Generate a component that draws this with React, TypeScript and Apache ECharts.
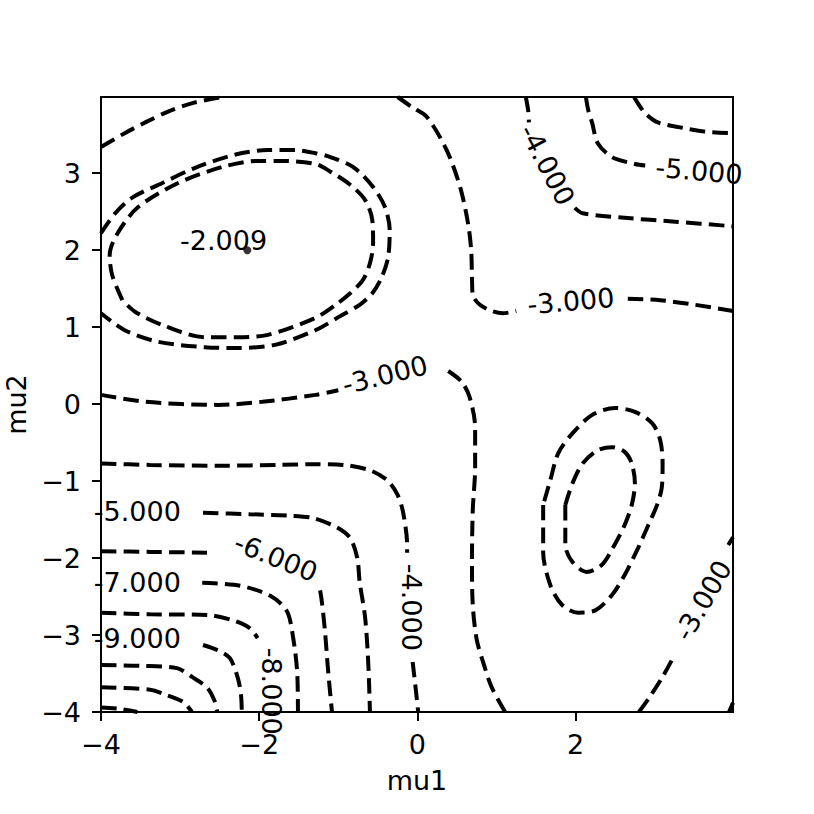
import React, { useEffect, useRef } from "react";
import * as echarts from "echarts";

// axis ranges and ticks
const xRange = [-4, 3.99];
const yRange = [-4, 3.99];
const xTicks = [-4, -2, 0, 2];
const yTicks = [-4, -3, -2, -1, 0, 1, 2, 3];

// contour lines, as [mu1, mu2]
const c3TopLeft = [[-4, 3.34], [-3.7, 3.52], [-3.44, 3.66], [-3.13, 3.81], [-2.81, 3.92], [-2.46, 3.99]];
const cOuterMode1 = [
  [-4, 2.22], [-3.82, 2.48], [-3.61, 2.68], [-3.23, 2.87], [-2.81, 3.07], [-2.31, 3.24], [-1.89, 3.3],
  [-1.55, 3.3], [-1.29, 3.26], [-1.1, 3.21], [-0.81, 3.08], [-0.56, 2.82], [-0.41, 2.56], [-0.35, 2.26],
  [-0.37, 1.91], [-0.45, 1.65], [-0.57, 1.44], [-0.73, 1.29], [-0.98, 1.14], [-1.29, 0.96], [-1.8, 0.77],
  [-2.27, 0.73], [-2.69, 0.74], [-3.28, 0.81], [-3.7, 0.96], [-4, 1.18],
];
const cInnerMode1 = [
  [-3.73, 1.35], [-3.86, 1.68], [-3.89, 1.94], [-3.79, 2.22], [-3.53, 2.56], [-3.03, 2.87], [-2.47, 3.08],
  [-2.02, 3.16], [-1.71, 3.16], [-1.29, 3.12], [-1.1, 3.02], [-0.85, 2.85], [-0.66, 2.65], [-0.57, 2.39],
  [-0.56, 2.09], [-0.6, 1.83], [-0.69, 1.61], [-0.85, 1.44], [-1.02, 1.3], [-1.29, 1.12], [-1.89, 0.9],
  [-2.31, 0.87], [-2.69, 0.87], [-3.23, 1.03], [-3.57, 1.2], [-3.73, 1.35],
];
const c3TopMidA = [
  [-0.25, 3.99], [-0.07, 3.86], [0.12, 3.73], [0.37, 3.3], [0.54, 2.82], [0.64, 2.35], [0.68, 2.0],
  [0.69, 1.65], [0.7, 1.42], [0.79, 1.29], [0.94, 1.21], [1.08, 1.18], [1.25, 1.21],
];
const c3TopMidB = [[2.66, 1.37], [3.07, 1.35], [3.51, 1.29], [3.99, 1.21]];
const c3MidA = [[-4, 0.12], [-3.44, 0.03], [-2.52, -0.01], [-1.96, 0.03], [-1.29, 0.12], [-1.0, 0.18]];
const c3MidB = [
  [0.39, 0.43], [0.56, 0.29], [0.66, 0.09], [0.73, -0.3], [0.73, -0.82], [0.7, -1.38], [0.69, -2.03],
  [0.7, -2.61], [0.75, -3.06], [0.83, -3.35], [0.94, -3.68], [1.11, -4],
];
const c4BottomA = [
  [-4, -0.77], [-3.38, -0.79], [-2.5, -0.8], [-1.74, -0.79], [-1.29, -0.78], [-0.94, -0.79], [-0.6, -0.86],
  [-0.38, -0.99], [-0.25, -1.18], [-0.18, -1.41], [-0.13, -1.83], [-0.13, -1.93],
];
const c4BottomB = [[-0.06, -3.35], [-0.02, -3.71], [0.01, -4]];
const c5Bottom = [
  [-2.71, -1.41], [-2.12, -1.43], [-1.61, -1.45], [-1.32, -1.48], [-1.02, -1.6], [-0.85, -1.74],
  [-0.76, -2.0], [-0.73, -2.31], [-0.66, -2.78], [-0.62, -3.39], [-0.6, -4],
];
const c6BottomA = [[-4, -1.91], [-3.38, -1.92], [-2.66, -1.93]];
const c6BottomB = [[-1.23, -2.42], [-1.21, -2.55], [-1.17, -2.93], [-1.13, -3.45], [-1.08, -4]];
const c7Bottom = [[-2.72, -2.32], [-2.24, -2.36], [-1.86, -2.49], [-1.65, -2.69], [-1.57, -3.04], [-1.52, -3.48], [-1.51, -4]];
const c8Bottom = [[-4, -2.71], [-3.38, -2.73], [-2.66, -2.74], [-2.33, -2.81], [-2.12, -2.91], [-2.02, -3.04]];
const c9Bottom = [[-2.71, -3.13], [-2.52, -3.2], [-2.37, -3.3], [-2.27, -3.56], [-2.23, -3.78], [-2.22, -4]];
const c10Bottom = [[-4, -3.39], [-3.51, -3.4], [-3.04, -3.43], [-2.84, -3.55], [-2.66, -3.68], [-2.57, -3.84], [-2.53, -4]];
const c11Bottom = [[-4, -3.68], [-3.38, -3.71], [-3.17, -3.78], [-2.96, -3.87], [-2.85, -4]];
const c12Bottom = [[-4, -3.94], [-3.76, -3.96], [-3.54, -4]];
const c4TopA = [[1.37, 3.99], [1.4, 3.82], [1.41, 3.66]];
const c4TopB = [[1.99, 2.55], [2.09, 2.48], [2.62, 2.42], [3.26, 2.37], [3.99, 2.31]];
const c5Top = [[2.13, 3.99], [2.16, 3.82], [2.21, 3.65], [2.28, 3.39], [2.46, 3.21], [2.75, 3.12], [2.88, 3.1]];
const c6Top = [[2.74, 3.99], [2.78, 3.92], [2.88, 3.78], [3.04, 3.66], [3.35, 3.59], [3.64, 3.54], [3.99, 3.52]];
const cOuterMode2 = [
  [1.59, -1.31], [1.59, -1.92], [1.68, -2.35], [1.83, -2.61], [2.03, -2.71], [2.25, -2.68], [2.46, -2.48],
  [2.62, -2.22], [2.79, -1.87], [2.92, -1.57], [3.03, -1.31], [3.09, -1.08], [3.1, -0.77], [3.07, -0.47],
  [2.97, -0.25], [2.75, -0.1], [2.5, -0.05], [2.21, -0.14], [1.96, -0.38], [1.78, -0.64], [1.68, -0.99],
  [1.59, -1.31],
];
const cInnerMode2 = [
  [1.87, -1.31], [1.87, -1.83], [1.96, -2.05], [2.14, -2.18], [2.33, -2.09], [2.47, -1.87], [2.62, -1.57],
  [2.71, -1.31], [2.75, -1.03], [2.71, -0.77], [2.62, -0.62], [2.46, -0.56], [2.28, -0.6], [2.09, -0.77],
  [1.96, -1.03], [1.87, -1.31],
];
const c3BottomRightA = [[2.8, -4], [2.94, -3.8], [3.09, -3.56], [3.22, -3.32]];
const c3BottomRightB = [[3.93, -1.83], [3.99, -1.73]];
const cCorner = [[3.94, -4], [3.99, -3.88]];

const peakPoint = [[-2.15, 2.0]];

// inline contour labels: text, mu1, mu2, angle
const labelTexts = ["-2.009", "-3.000", "-3.000", "-4.000", "-5.000", "-5.000", "-6.000", "-7.000", "-9.000", "-8.000", "-4.000", "-3.000"];
const labelX = [-2.45, 1.94, -0.41, 1.64, 3.56, -3.54, -1.79, -3.54, -3.54, -1.85, -0.07, 3.61];
const labelY = [2.13, 1.34, 0.38, 3.11, 3.03, -1.4, -1.99, -2.32, -3.04, -3.73, -2.64, -2.55];
const labelAngles = [0, 5, 14, -62, -5, 0, -22, 0, 0, -90, -90, 60];

const FONT = "DejaVu Sans";
const FS = 27;
const fmt = (v: number) => (v < 0 ? "\u2212" + Math.abs(v) : String(v));

export default function App() {
  const ref = useRef<HTMLDivElement>(null);
  useEffect(() => {
    const chart = echarts.init(ref.current!, null, { renderer: "svg" });
    const segments = [
      c3TopLeft, cOuterMode1, cInnerMode1, c3TopMidA, c3TopMidB, c3MidA, c3MidB, c4BottomA, c4BottomB,
      c5Bottom, c6BottomA, c6BottomB, c7Bottom, c8Bottom, c9Bottom, c10Bottom, c11Bottom, c12Bottom,
      c4TopA, c4TopB, c5Top, c6Top, cOuterMode2, cInnerMode2, c3BottomRightA, c3BottomRightB, cCorner,
    ];
    const lineStyle = { color: "#000", width: 4, type: [15.5, 7.2], cap: "butt" };
    const series: any[] = segments.map((d) => ({
      type: "line",
      data: d,
      showSymbol: false,
      symbol: "none",
      smooth: 0.3,
      lineStyle,
      silent: true,
      clip: true,
    }));
    series.push({
      type: "scatter",
      data: peakPoint,
      symbol: "circle",
      symbolSize: 8,
      itemStyle: { color: "#000" },
      silent: true,
    });
    series.push({
      type: "scatter",
      symbolSize: 1,
      itemStyle: { color: "transparent" },
      silent: true,
      z: 5,
      data: labelTexts.map((t, i) => ({
        value: [labelX[i], labelY[i]],
        name: t,
        label: { rotate: labelAngles[i] },
      })),
      label: {
        show: true,
        position: "inside",
        formatter: "{b}",
        color: "#000",
        opacity: 1,
        fontSize: FS,
        fontFamily: FONT,
        align: "center",
        verticalAlign: "middle",
      },
    });
    chart.setOption({
      animation: false,
      backgroundColor: "#fff",
      grid: {
        left: 101, top: 97, width: 632, height: 615,
        show: true, borderColor: "#000", borderWidth: 2, backgroundColor: "transparent",
        containLabel: false, outerBoundsMode: "none",
      },
      xAxis: {
        type: "value",
        min: xRange[0],
        max: xRange[1],
        interval: 2,
        splitLine: { show: false },
        axisLine: { show: true, onZero: false, lineStyle: { color: "#000", width: 2 } },
        axisTick: { show: true, length: 9, lineStyle: { color: "#000", width: 2 }, customValues: xTicks },
        axisLabel: { customValues: xTicks, formatter: fmt, fontSize: FS, fontFamily: FONT, color: "#000", margin: 19 },
        name: "mu1",
        nameLocation: "middle",
        nameGap: 55,
        nameTextStyle: { fontSize: FS, fontFamily: FONT, color: "#000" },
      },
      yAxis: {
        type: "value",
        min: yRange[0],
        max: yRange[1],
        interval: 1,
        splitLine: { show: false },
        axisLine: { show: true, onZero: false, lineStyle: { color: "#000", width: 2 } },
        axisTick: { show: true, length: 9, lineStyle: { color: "#000", width: 2 }, customValues: yTicks },
        axisLabel: { customValues: yTicks, formatter: fmt, fontSize: FS, fontFamily: FONT, color: "#000", margin: 20 },
        name: "mu2",
        nameLocation: "middle",
        nameGap: 68,
        nameTextStyle: { fontSize: FS, fontFamily: FONT, color: "#000" },
      },
      series,
    });
    return () => chart.dispose();
  }, []);
  return (
    <div
      ref={ref}
      style={{ position: "absolute", left: 0, top: 0, width: 814, height: 814, background: "#fff" }}
    />
  );
}
